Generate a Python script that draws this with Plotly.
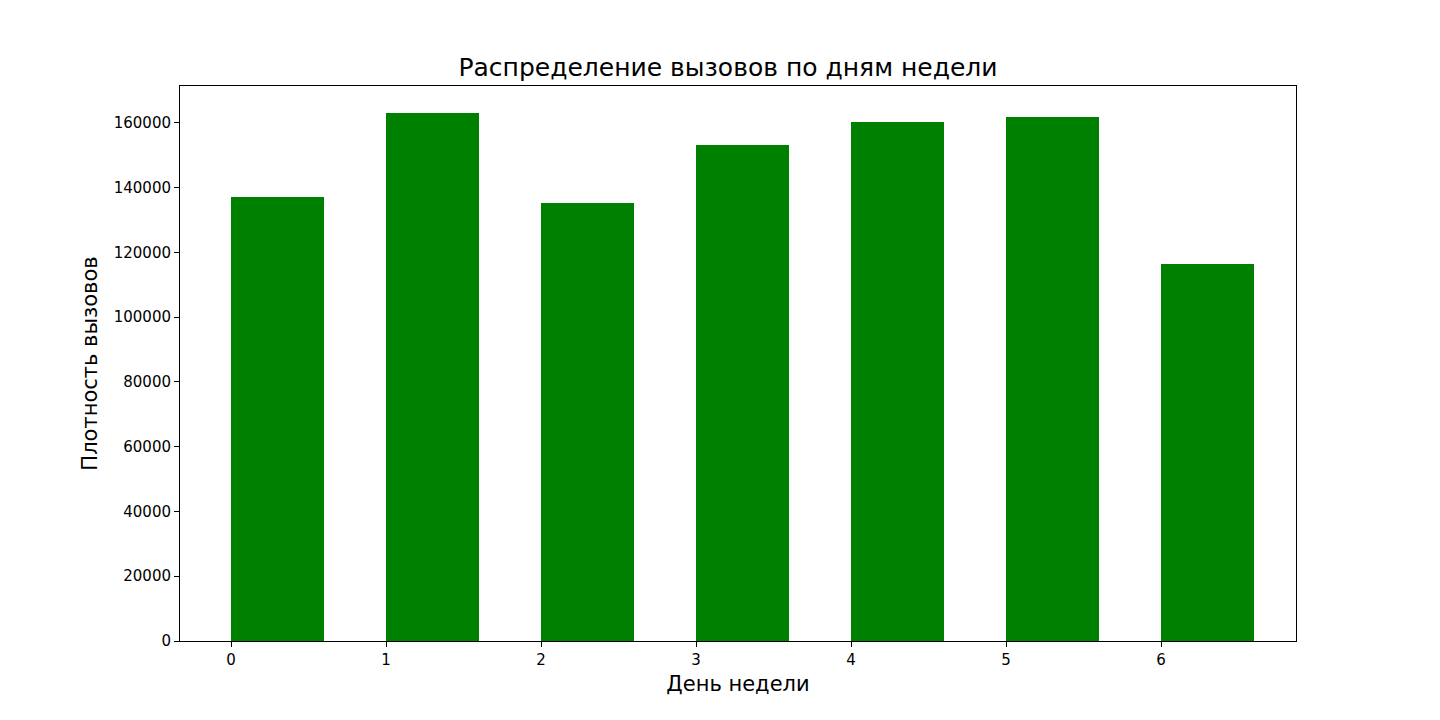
import plotly.graph_objects as go

days = [0, 1, 2, 3, 4, 5, 6]
calls = [137100, 163100, 135300, 153200, 160300, 161900, 116400]
title = "Распределение вызовов по дням недели"
xlabel = "День недели"
ylabel = "Плотность вызовов"

fig = go.Figure(go.Bar(x=days, y=calls, width=0.6, offset=0, marker_color="green", marker_line_width=0))
ax = dict(showline=True, linecolor="black", linewidth=1, mirror=True, ticks="outside",
          ticklen=5, tickcolor="black", showgrid=False, zeroline=False,
          tickfont=dict(size=15, color="black"))
fig.update_layout(
    width=1440, height=720, plot_bgcolor="white", paper_bgcolor="white",
    font=dict(family="DejaVu Sans", color="black"),
    margin=dict(l=172, r=152, t=78, b=87),
    title=dict(text=title, x=0.5, xanchor="center", y=0.905, yanchor="bottom", font=dict(size=25)),
    bargap=0,
)
fig.update_xaxes(**ax, range=[-0.329, 6.871], tickvals=days, title=dict(text=xlabel, font=dict(size=21), standoff=8))
fig.update_yaxes(**ax, range=[0, 171400], tickvals=list(range(0, 160001, 20000)), tickformat="d",
                 title=dict(text=ylabel, font=dict(size=21), standoff=10))
fig.write_html("out.html")
